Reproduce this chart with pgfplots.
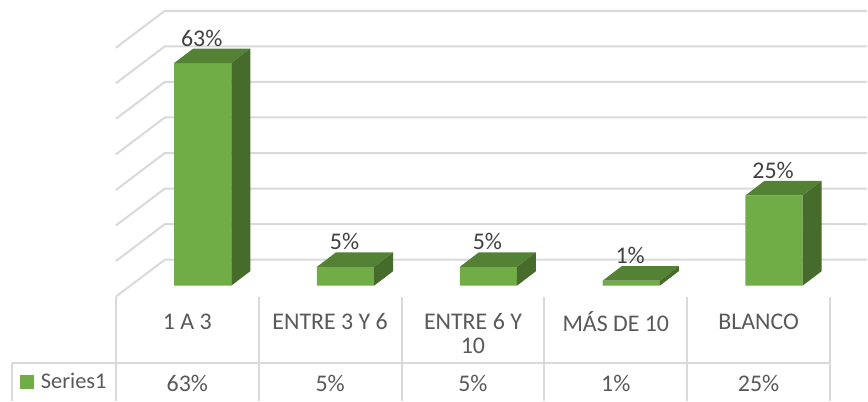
\documentclass[border=0pt]{standalone}
\usepackage{pgfplots}
\pgfplotsset{compat=1.18}
\usepackage{pgfplotstable}
\usepackage{fontspec}
\setmainfont{Carlito}
\definecolor{gridc}{HTML}{D9D9D9}
\definecolor{barfront}{HTML}{70AD47}
\definecolor{bartop}{HTML}{548235}
\definecolor{barside}{HTML}{476B2A}
\definecolor{txt}{HTML}{595959}
\definecolor{lab}{HTML}{404040}
\newcommand{\chartfont}{\fontsize{24}{28}\selectfont}
\newcommand{\legendfont}{\fontsize{22.5}{26}\selectfont}
\tikzset{tbl/.style={text=txt,font=\chartfont}}

% back wall and floor lines, one per 10%
\pgfplotstableread{
x y
0 -3.09
0.3427 7.3
5.2587 7.3
nan nan
0 6.91
0.3427 17.3
5.2587 17.3
nan nan
0 16.91
0.3427 27.3
5.2587 27.3
nan nan
0 26.91
0.3427 37.3
5.2587 37.3
nan nan
0 36.91
0.3427 47.3
5.2587 47.3
nan nan
0 46.91
0.3427 57.3
5.2587 57.3
nan nan
0 56.91
0.3427 67.3
5.2587 67.3
nan nan
0 66.91
0.3427 77.3
5.2587 77.3
}\walllines

% data table rules
\pgfplotstableread{
x y
0 -3.09
0 -32.3
nan nan
1 -3.09
1 -32.3
nan nan
2 -3.09
2 -32.3
nan nan
3 -3.09
3 -32.3
nan nan
4 -3.09
4 -32.3
nan nan
5 -3.09
5 -32.3
nan nan
-0.73 -21.7
5 -21.7
nan nan
-0.73 -21.7
-0.73 -32.3
}\tablerules

\begin{document}
\begin{tikzpicture}
\begin{axis}[
  scale only axis,
  width=868bp, height=401bp,
  xmin=-0.8112, xmax=5.2587,
  ymin=-32.3, ymax=80.34,
  axis lines=none,
  clip=false,
  unbounded coords=jump,
  legend style={at={(0.023,0.0474)},anchor=west,draw=none,fill=none,
    font=\legendfont\color{txt},inner sep=0pt,outer sep=0pt},
  legend cell align=left,
]
\path (rel axis cs:0,0) rectangle (rel axis cs:1,1);
\addplot[forget plot,gridc,line width=2bp] table {\walllines};
\addplot[forget plot,gridc,line width=2bp] table {\tablerules};

% front faces
\addplot[ybar,bar width=0.4,bar shift=0pt,fill=barfront,draw=none,
  legend image code/.code={\fill[barfront] (0bp,-7bp) rectangle (14bp,7bp); \path (19bp,0bp);},
  point meta=explicit symbolic,
  nodes near coords,
  every node near coord/.style={anchor=center,yshift=25bp,xshift=-1bp,color=lab,font=\chartfont},
] coordinates {
  (0.608,62.6) [63\%]
  (1.608,5.3) [5\%]
  (2.608,5.3) [5\%]
  (3.608,1.4) [1\%]
  (4.608,25.4) [25\%]
};
\addlegendentry{Series1}

% top faces
\addplot[forget plot,fill=bartop,draw=none] coordinates {(0.408,62.6) (0.808,62.6) (0.941,66.67) (0.541,66.67)} --cycle;
\addplot[forget plot,fill=bartop,draw=none] coordinates {(1.408,5.3) (1.808,5.3) (1.941,9.37) (1.541,9.37)} --cycle;
\addplot[forget plot,fill=bartop,draw=none] coordinates {(2.408,5.3) (2.808,5.3) (2.941,9.37) (2.541,9.37)} --cycle;
\addplot[forget plot,fill=bartop,draw=none] coordinates {(3.408,1.4) (3.808,1.4) (3.941,5.47) (3.541,5.47)} --cycle;
\addplot[forget plot,fill=bartop,draw=none] coordinates {(4.408,25.4) (4.808,25.4) (4.941,29.47) (4.541,29.47)} --cycle;

% side faces
\addplot[forget plot,fill=barside,draw=none] coordinates {(0.808,0) (0.941,4.07) (0.941,66.67) (0.808,62.6)} --cycle;
\addplot[forget plot,fill=barside,draw=none] coordinates {(1.808,0) (1.941,4.07) (1.941,9.37) (1.808,5.3)} --cycle;
\addplot[forget plot,fill=barside,draw=none] coordinates {(2.808,0) (2.941,4.07) (2.941,9.37) (2.808,5.3)} --cycle;
\addplot[forget plot,fill=barside,draw=none] coordinates {(3.808,0) (3.941,4.07) (3.941,5.47) (3.808,1.4)} --cycle;
\addplot[forget plot,fill=barside,draw=none] coordinates {(4.808,0) (4.941,4.07) (4.941,29.47) (4.808,25.4)} --cycle;

% data table text
\node[tbl] at (axis cs:0.5,-10.1) {1 A 3};
\node[tbl] at (axis cs:1.5,-10.1) {ENTRE 3 Y 6};
\node[tbl] at (axis cs:2.5,-10.1) {ENTRE 6 Y};
\node[tbl] at (axis cs:2.5,-16.85) {10};
\node[tbl] at (axis cs:3.5,-10.1) {MÁS DE 10};
\node[tbl] at (axis cs:4.5,-10.1) {BLANCO};
\node[tbl] at (axis cs:0.5,-27.4) {63\%};
\node[tbl] at (axis cs:1.5,-27.4) {5\%};
\node[tbl] at (axis cs:2.5,-27.4) {5\%};
\node[tbl] at (axis cs:3.5,-27.4) {1\%};
\node[tbl] at (axis cs:4.5,-27.4) {25\%};
\end{axis}
\end{tikzpicture}
\end{document}
